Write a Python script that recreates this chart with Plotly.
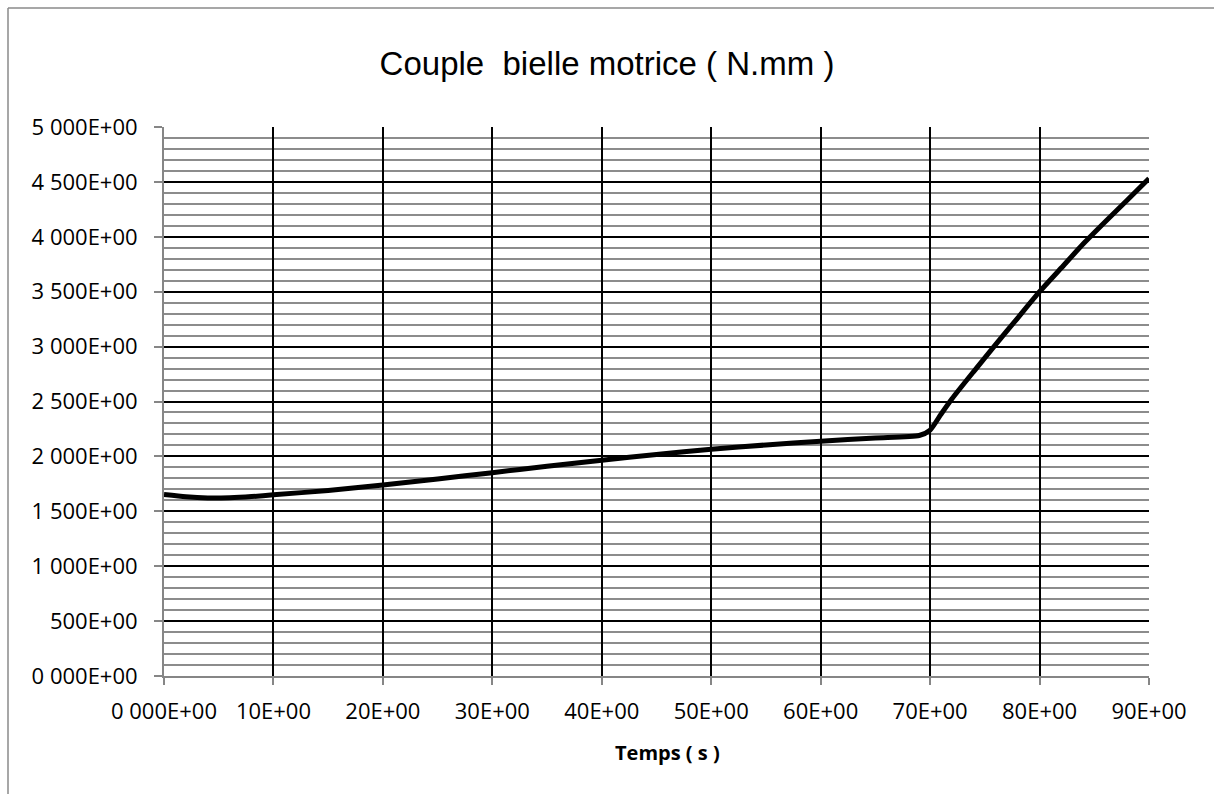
import plotly.graph_objects as go

# Data
temps_s = [0, 2, 4, 6, 8, 10, 15, 20, 25, 30, 35, 40, 45, 50, 55, 60, 65, 69, 70,
           71, 72, 74, 76, 78, 80, 82, 84, 86, 88, 90]
couple_nmm = [1652, 1632, 1622, 1624, 1634, 1650, 1690, 1740, 1795, 1852, 1910, 1965,
              2018, 2066, 2104, 2138, 2168, 2190, 2240, 2385, 2525, 2775, 3020, 3260,
              3500, 3718, 3936, 4137, 4333, 4530]

x_tickvals = [0, 10, 20, 30, 40, 50, 60, 70, 80, 90]
x_ticktext = ["0 000E+00", "10E+00", "20E+00", "30E+00", "40E+00", "50E+00",
              "60E+00", "70E+00", "80E+00", "90E+00"]
y_tickvals = [0, 500, 1000, 1500, 2000, 2500, 3000, 3500, 4000, 4500, 5000]
y_ticktext = ["0 000E+00", "500E+00", "1 000E+00", "1 500E+00", "2 000E+00",
              "2 500E+00", "3 000E+00", "3 500E+00", "4 000E+00", "4 500E+00",
              "5 000E+00"]

W, H = 1214, 794
L, R, T, B = 164, 65, 127, 118
pw, ph = W - L - R, H - T - B

fig = go.Figure()
fig.add_trace(go.Scatter(x=temps_s, y=couple_nmm, mode="lines",
                         line=dict(color="black", width=5, shape="spline", smoothing=0.6),
                         showlegend=False, hoverinfo="skip"))

tickfont = dict(family="Open Sans", size=22, color="black")

fig.update_layout(
    width=W, height=H,
    margin=dict(l=L, r=R, t=T, b=B, pad=0),
    paper_bgcolor="white", plot_bgcolor="white",
    title=dict(text="Couple  bielle motrice ( N.mm )", x=0.5, xanchor="center",
               y=1 - 63 / H, yanchor="middle",
               font=dict(family="Liberation Sans", size=33, color="black")),
    xaxis=dict(range=[0, 90], tickvals=x_tickvals, ticktext=x_ticktext,
               showgrid=True, gridcolor="black", gridwidth=1.8,
               showline=True, linecolor="#868686", linewidth=2,
               ticks="outside", ticklen=7, tickcolor="#868686", tickwidth=2,
               tickfont=tickfont, ticklabelstandoff=8, zeroline=False),
    yaxis=dict(range=[0, 5000], tickvals=y_tickvals, ticktext=y_ticktext,
               showgrid=True, gridcolor="black", gridwidth=1.8,
               minor=dict(dtick=100, showgrid=True, gridcolor="#8c8c8c", gridwidth=1.6),
               showline=True, linecolor="#868686", linewidth=2,
               ticks="outside", ticklen=8, tickcolor="#868686", tickwidth=2,
               tickfont=tickfont, ticklabelstandoff=12, zeroline=False),
)

# x-axis title
fig.add_annotation(text="<b>Temps ( s )</b>", xref="paper", yref="paper",
                   x=(667 - L) / pw, y=-(752 - (H - B)) / ph,
                   xanchor="center", yanchor="middle", showarrow=False,
                   font=dict(family="Open Sans", size=20, color="black"))

# outer chart-area border (top and left, as visible in the reference)
bx = (8 - L) / pw
by = (H - B - 8) / ph
fig.add_shape(type="line", xref="paper", yref="paper", x0=bx, x1=bx, y0=by, y1=-1,
              line=dict(color="#8a8a8a", width=1.5), layer="above")
fig.add_shape(type="line", xref="paper", yref="paper", x0=bx, x1=2, y0=by, y1=by,
              line=dict(color="#8a8a8a", width=1.5), layer="above")

fig.write_html("out.html", config={"displayModeBar": False},
               post_script="document.body.style.margin='0';document.body.style.overflow='hidden';")
